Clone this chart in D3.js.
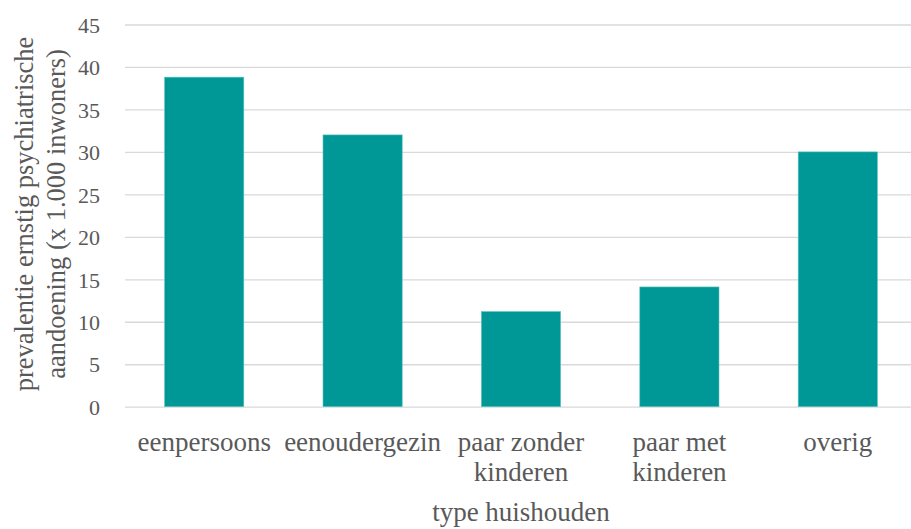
<!DOCTYPE html>
<html><head><meta charset="utf-8">
<script src="https://cdn.jsdelivr.net/npm/d3@7"></script>
<style>body{margin:0;background:#fff}</style>
</head><body><svg id="c" width="911" height="529"></svg>
<script>
const categories = [["eenpersoons"],["eenoudergezin"],["paar zonder","kinderen"],["paar met","kinderen"],["overig"]];
const values = [38.8, 32.0, 11.2, 14.1, 30.0];
const yTicks = [0,5,10,15,20,25,30,35,40,45];
const yTitle = ["prevalentie ernstig psychiatrische","aandoening (x 1.000 inwoners)"];
const xTitle = "type huishouden";

(function(){
const FONT = "'Liberation Serif','Times New Roman',serif";
const COL = "#595959";
const svg = d3.select("#c");
const pLeft = 125, pRight = 917, pTop = 24.5, pBottom = 406.7;
const x = d3.scaleBand().domain(d3.range(categories.length)).range([pLeft, pRight]).paddingInner(0.5).paddingOuter(0.25);
const y = d3.scaleLinear().domain([0,45]).range([pBottom, pTop]);

const yAxis = svg.append("g").attr("transform",`translate(${pLeft},0)`)
  .call(d3.axisLeft(y).tickValues(yTicks).tickSize(-(911-pLeft)).tickPadding(25));
yAxis.attr("font-family", FONT);
yAxis.select(".domain").remove();
yAxis.selectAll(".tick line").attr("stroke","#d9d9d9").attr("stroke-width",1.3);
yAxis.selectAll(".tick text").attr("font-size","22px").attr("font-family",FONT).attr("dy","0.35em").attr("fill",COL);

svg.append("g").selectAll("rect").data(values).join("rect")
  .attr("x",(d,i)=>x(i)).attr("width",x.bandwidth())
  .attr("y",d=>y(d)).attr("height",d=>y(0)-y(d))
  .attr("fill","#009896").attr("stroke","#5cc4c1").attr("stroke-width",0.6);

const xl = svg.append("g");
categories.forEach((lines,i)=>{
  lines.forEach((t,j)=>{
    xl.append("text").attr("x",x(i)+x.bandwidth()/2).attr("y",451+j*30)
      .attr("text-anchor","middle").attr("font-size","27px").attr("font-family",FONT).attr("fill",COL).text(t);
  });
});
svg.append("text").attr("x",521).attr("y",521).attr("text-anchor","middle")
  .attr("font-size","27px").attr("font-family",FONT).attr("fill",COL).text(xTitle);
yTitle.forEach((t,j)=>{
  svg.append("text").attr("transform",`translate(${33+j*32},214) rotate(-90)`)
    .attr("text-anchor","middle").attr("font-size","26.5px").attr("font-family",FONT).attr("fill",COL).text(t);
});
})();
</script></body></html>
